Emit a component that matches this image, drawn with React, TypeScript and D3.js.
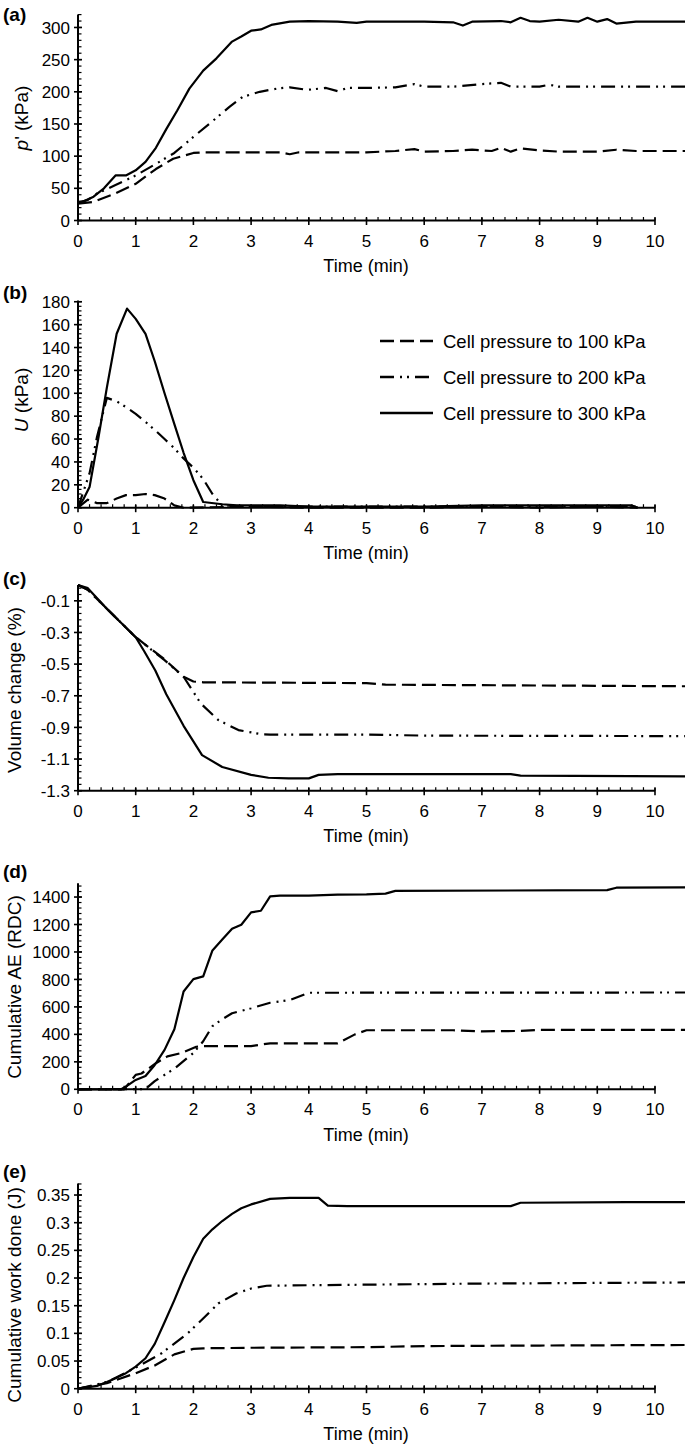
import React from 'react';
import * as d3 from 'd3';

type P = [number, number][];

// ---------- data (time in min, value) ----------
const a100: P = [[0,26],[0.27,29],[0.65,42],[1.0,57],[1.35,80],[1.65,96],[2.0,105],[2.17,106],[3.5,106],[3.67,103],[3.83,106],[5.0,106],[5.5,108],[5.83,111],[6.0,107],[6.5,108],[6.83,110],[7.17,108],[7.33,113],[7.5,107],[7.67,112],[8.0,109],[8.33,107],[9.0,107],[9.33,110],[9.67,108],[10.52,108]];
const a200: P = [[0,27],[0.17,32],[0.33,42],[0.65,55],[1.0,70],[1.35,88],[1.67,105],[2.0,130],[2.3,152],[2.63,177],[2.85,192],[3.15,200],[3.45,205],[3.67,207],[3.97,203],[4.3,206],[4.5,201],[4.67,206],[5.0,206],[5.5,207],[5.83,212],[6.0,208],[6.5,208],[7.0,212],[7.33,214],[7.5,208],[8.0,208],[8.17,211],[8.33,208],[9.0,208],[10.52,208]];
const a300: P = [[0,28],[0.1,30],[0.27,37],[0.45,50],[0.65,70],[0.83,70],[1.0,78],[1.17,91],[1.35,113],[1.53,142],[1.72,171],[1.93,205],[2.17,233],[2.4,252],[2.67,278],[2.83,286],[3.0,295],[3.17,297],[3.35,304],[3.67,309],[4.0,310],[4.5,309],[4.83,307],[5.0,309],[6.0,309],[6.5,308],[6.67,303],[6.83,309],[7.33,310],[7.5,308],[7.67,315],[7.83,310],[8.0,309],[8.33,312],[8.67,309],[8.83,315],[9.0,309],[9.17,313],[9.33,306],[9.67,309],[10.52,309]];

const b100: P = [[0,0],[0.17,7],[0.33,4],[0.5,4],[0.67,8],[0.83,11],[1.0,11],[1.17,12],[1.33,11],[1.5,8],[1.67,2],[1.83,0],[3,1],[4,0],[5,0],[6,0],[7,1],[8,0],[9,1],[9.7,0]];
const b200: P = [[0,0],[0.1,15],[0.2,30],[0.33,62],[0.5,96],[0.67,93],[0.83,88],[1.0,82],[1.17,75],[1.33,68],[1.5,60],[1.67,52],[1.83,43],[2.0,35],[2.17,25],[2.33,12],[2.5,2],[3,1],[4,1],[5,1],[6,1],[7,1],[8,1],[9,1],[9.7,1]];
const b300: P = [[0,0],[0.1,8],[0.2,18],[0.35,60],[0.5,105],[0.67,152],[0.85,174],[1.0,165],[1.17,152],[1.33,128],[1.5,100],[1.67,73],[1.83,48],[2.0,24],[2.17,5],[2.5,3],[2.75,2],[3.5,2],[4,1],[5,1],[6,1],[7,2],[8,2],[9,2],[9.6,2],[9.7,0]];

const c100: P = [[0,0],[0.17,-0.03],[0.5,-0.15],[0.75,-0.24],[1.0,-0.33],[1.5,-0.47],[1.83,-0.58],[2.0,-0.61],[2.17,-0.615],[5.0,-0.62],[5.33,-0.63],[10.52,-0.64]];
const c200: P = [[0,0],[0.17,-0.03],[0.5,-0.15],[0.75,-0.24],[1.0,-0.33],[1.5,-0.475],[1.83,-0.58],[2.13,-0.75],[2.43,-0.853],[2.78,-0.917],[3.19,-0.944],[3.33,-0.945],[5.0,-0.945],[6.0,-0.952],[10.52,-0.955]];
const c300: P = [[0,0],[0.17,-0.02],[0.5,-0.15],[0.75,-0.24],[1.0,-0.33],[1.15,-0.42],[1.34,-0.54],[1.53,-0.69],[1.83,-0.89],[2.15,-1.075],[2.5,-1.15],[3.0,-1.2],[3.3,-1.218],[3.65,-1.222],[4.0,-1.222],[4.17,-1.2],[4.5,-1.195],[7.5,-1.195],[7.67,-1.205],[10.52,-1.21]];

const d100: P = [[0,0],[0.8,0],[1.0,105],[1.1,115],[1.35,190],[1.55,240],[1.8,265],[2.05,310],[2.17,315],[3.0,315],[3.33,335],[4.5,335],[4.8,400],[5.0,430],[6.5,430],[7.0,422],[7.67,425],[8.0,432],[10.52,432]];
const d200: P = [[0,0],[1.17,2],[1.33,60],[1.67,150],[2.0,265],[2.17,350],[2.33,460],[2.5,510],[2.67,554],[3.0,590],[3.33,630],[3.5,640],[3.67,650],[4.0,703],[10.52,705]];
const d300: P = [[0,0],[0.75,0],[0.83,20],[1.0,68],[1.17,97],[1.33,177],[1.5,287],[1.67,437],[1.83,712],[2.0,802],[2.17,822],[2.33,1011],[2.5,1090],[2.67,1169],[2.83,1198],[3.0,1288],[3.17,1300],[3.33,1405],[3.5,1410],[4.0,1410],[4.5,1418],[5.0,1420],[5.33,1425],[5.5,1445],[9.17,1450],[9.33,1468],[10.52,1470]];

const e100: P = [[0,0],[0.5,0.01],[1.0,0.028],[1.33,0.042],[1.67,0.062],[2.0,0.072],[2.17,0.073],[3.0,0.074],[5.0,0.075],[6.0,0.077],[8.0,0.078],[10.52,0.079]];
const e200: P = [[0,0],[0.5,0.012],[1.0,0.038],[1.45,0.064],[1.9,0.1],[2.2,0.13],[2.43,0.154],[2.74,0.172],[3.0,0.181],[3.27,0.186],[4.0,0.187],[5.0,0.188],[7.0,0.19],[10.52,0.192]];
const e300: P = [[0,0],[0.33,0.005],[0.5,0.012],[0.67,0.02],[0.83,0.028],[1.0,0.04],[1.17,0.055],[1.33,0.081],[1.5,0.12],[1.67,0.16],[1.83,0.2],[2.0,0.238],[2.17,0.271],[2.33,0.288],[2.5,0.303],[2.67,0.316],[2.83,0.326],[3.0,0.333],[3.33,0.343],[3.67,0.345],[4.17,0.345],[4.33,0.331],[4.67,0.33],[7.5,0.33],[7.67,0.336],[9.5,0.337],[10.52,0.337]];

const xTicks = [0,1,2,3,4,5,6,7,8,9,10];
const legendLabels = ['Cell pressure to 100 kPa', 'Cell pressure to 200 kPa', 'Cell pressure to 300 kPa'];

const aTicks = [0,50,100,150,200,250,300];
const bTicks = [0,20,40,60,80,100,120,140,160,180];
const cTicks = [-1.3,-1.1,-0.9,-0.7,-0.5,-0.3,-0.1];
const dTicks = [0,200,400,600,800,1000,1200,1400];
const eTicks = [0,0.05,0.1,0.15,0.2,0.25,0.3,0.35];

// ---------- styling ----------
const FONT = '"Liberation Sans", Arial, sans-serif';
const DASH = ['14,6', '14,6,2,5,2,6', null];
const W = 685, H = 1447;

const xScale = d3.scaleLinear().domain([0, 10]).range([78, 655]);

function Panel(props: any) {
  const { label, labelY, domain, range, ticks, minor, fmt, title, titleX, titleY, series, legend } = props;
  const y = d3.scaleLinear().domain(domain).range(range);
  const ax = xScale(0);
  const ay = y(domain[0]);
  const line = d3.line<[number, number]>().x(d => xScale(d[0])).y(d => y(d[1]));
  const minorY: number[] = [];
  for (let v = domain[0]; v <= domain[1] + 1e-9; v += minor) minorY.push(v);
  const minorX: number[] = [];
  for (let k = 0; k <= 50; k++) minorX.push(k * 0.2);
  return (
    <g>
      <text x={3} y={labelY} fontFamily={FONT} fontWeight="bold" fontSize={19}>{label}</text>
      {minorY.map((v, i) => <line key={'my' + i} x1={ax} x2={ax + 3.5} y1={y(v)} y2={y(v)} stroke="#000" strokeWidth={1.2} />)}
      {ticks.map((v: number, i: number) => (
        <g key={'y' + i}>
          <line x1={ax - 4} x2={ax + 4} y1={y(v)} y2={y(v)} stroke="#000" strokeWidth={1.6} />
          <text x={ax - 8} y={y(v)} dy="0.36em" textAnchor="end" fontFamily={FONT} fontSize={17}>{fmt(v)}</text>
        </g>
      ))}
      {minorX.map((v, i) => <line key={'mx' + i} x1={xScale(v)} x2={xScale(v)} y1={ay} y2={ay - 3.5} stroke="#000" strokeWidth={1.2} />)}
      {xTicks.map((v, i) => (
        <g key={'x' + i}>
          <line x1={xScale(v)} x2={xScale(v)} y1={ay - 3} y2={ay + 4.5} stroke="#000" strokeWidth={1.6} />
          <text x={xScale(v)} y={ay + 20} dy="0.36em" textAnchor="middle" fontFamily={FONT} fontSize={17}>{v}</text>
        </g>
      ))}
      <line x1={ax} x2={ax} y1={ay} y2={range[1]} stroke="#000" strokeWidth={2} />
      <line x1={ax} x2={xScale(10)} y1={ay} y2={ay} stroke="#000" strokeWidth={2} />
      <text x={366} y={ay + 45} dy="0.36em" textAnchor="middle" fontFamily={FONT} fontSize={18}>Time (min)</text>
      <text transform={`translate(${titleX},${titleY}) rotate(-90)`} dy="0.36em" textAnchor="middle" fontFamily={FONT} fontSize={19}>{title}</text>
      {series.map((s: P, i: number) => (
        <path key={'s' + i} d={line(s) || ''} fill="none" stroke="#000" strokeWidth={2.2}
          strokeDasharray={DASH[i] || undefined} strokeLinejoin="round" />
      ))}
      {legend && legendLabels.map((t, i) => (
        <g key={'lg' + i}>
          <line x1={380} x2={433} y1={341 + i * 36} y2={341 + i * 36} stroke="#000" strokeWidth={2.4} strokeDasharray={DASH[i] || undefined} />
          <text x={443} y={341 + i * 36} dy="0.36em" fontFamily={FONT} fontSize={18.5}>{t}</text>
        </g>
      ))}
    </g>
  );
}

export default function App() {
  const intFmt = (v: number) => String(v);
  return (
    <svg width={W} height={H} style={{ position: 'absolute', left: 0, top: 0, background: '#fff' }}>
      <rect width={W} height={H} fill="#fff" />
      <Panel label="(a)" labelY={21} domain={[0, 320]} range={[220.5, 14.6]} ticks={aTicks} minor={10} fmt={intFmt}
        title={<><tspan fontStyle="italic">p</tspan>' (kPa)</>} titleX={21} titleY={118} series={[a100, a200, a300]} />
      <Panel label="(b)" labelY={299} domain={[0, 181]} range={[507.7, 300.6]} ticks={bTicks} minor={4} fmt={intFmt}
        title={<><tspan fontStyle="italic">U</tspan> (kPa)</>} titleX={21} titleY={400} series={[b100, b200, b300]} legend />
      <Panel label="(c)" labelY={585} domain={[-1.3, 0]} range={[790.7, 585]} ticks={cTicks} minor={0.04} fmt={(v: number) => v.toFixed(1)}
        title="Volume change (%)" titleX={14} titleY={690} series={[c100, c200, c300]} />
      <Panel label="(d)" labelY={878} domain={[0, 1500]} range={[1089.3, 883.3]} ticks={dTicks} minor={40} fmt={intFmt}
        title="Cumulative AE (RDC)" titleX={14} titleY={987} series={[d100, d200, d300]} />
      <Panel label="(e)" labelY={1178} domain={[0, 0.371]} range={[1388.7, 1183.4]} ticks={eTicks} minor={0.01} fmt={(v: number) => String(+v.toFixed(2))}
        title="Cumulative work done (J)" titleX={14} titleY={1295} series={[e100, e200, e300]} />
    </svg>
  );
}
